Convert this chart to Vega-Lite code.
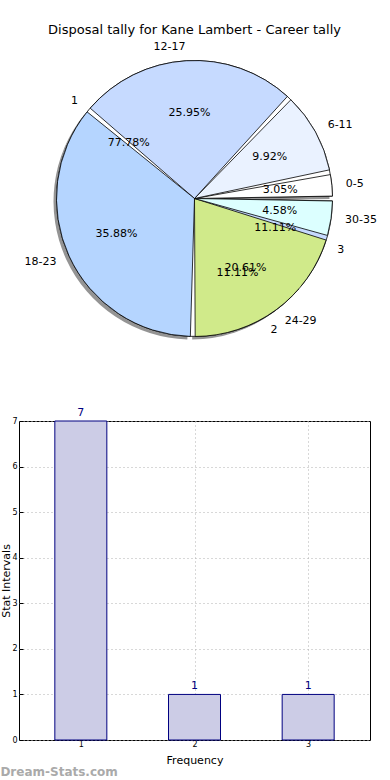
{
  "$schema": "https://vega.github.io/schema/vega-lite/v6.json",
  "padding": {"top": 23, "left": 0, "right": 0, "bottom": 0},
  "background": "white",
  "datasets": {
    "stat": [
      {"interval": "0-5", "lo": 0, "share": 3.05, "pct": "3.05%"},
      {"interval": "6-11", "lo": 6, "share": 9.92, "pct": "9.92%"},
      {"interval": "12-17", "lo": 12, "share": 25.95, "pct": "25.95%"},
      {"interval": "18-23", "lo": 18, "share": 35.88, "pct": "35.88%"},
      {"interval": "24-29", "lo": 24, "share": 20.61, "pct": "20.61%"},
      {"interval": "30-35", "lo": 30, "share": 4.58, "pct": "4.58%"}
    ],
    "freq": [
      {"freq": 1, "label": "1", "count": 7, "share": 77.78, "pct": "77.78%"},
      {"freq": 2, "label": "2", "count": 1, "share": 11.11, "pct": "11.11%"},
      {"freq": 3, "label": "3", "count": 1, "share": 11.11, "pct": "11.11%"}
    ]
  },
  "title": {
    "text": "Dream-Stats.com",
    "orient": "bottom",
    "anchor": "start",
    "font": "DejaVu Sans",
    "fontSize": 12,
    "fontWeight": "bold",
    "color": "#aaaaaa",
    "offset": 1
  },
  "spacing": 55,
  "vconcat": [
    {
      "width": 351,
      "height": 305,
      "view": {"stroke": null},
      "title": {
        "text": "Disposal tally for Kane Lambert - Career tally",
        "font": "DejaVu Sans",
        "fontSize": 13,
        "fontWeight": "normal",
        "color": "#000000",
        "anchor": "middle",
        "offset": 4
      },
      "layer": [
        {
          "data": {"name": "stat"},
          "mark": {"type": "arc", "outerRadius": 138, "padAngle": 0.035, "fill": "#4d4d4d", "opacity": 0.6, "xOffset": -3, "yOffset": 3},
          "encoding": {
            "theta": {"field": "share", "type": "quantitative", "stack": true, "scale": {"domain": [0, 100], "range": [1.5708, -4.7124]}},
            "order": {"field": "lo", "type": "quantitative"}
          }
        },
        {
          "data": {"name": "freq"},
          "mark": {"type": "arc", "outerRadius": 138, "padAngle": 0.035, "stroke": "#000000", "strokeWidth": 0.8},
          "encoding": {
            "theta": {"field": "share", "type": "quantitative", "stack": true},
            "order": {"field": "freq", "type": "quantitative"},
            "color": {"field": "label", "type": "nominal", "legend": null,
              "scale": {"domain": ["0-5", "6-11", "12-17", "18-23", "24-29", "30-35", "1", "2", "3"],
                        "range": ["#ffffff", "#eaf2ff", "#c6daff", "#b5d5ff", "#d0ea8a", "#dcffff", "#ffffff", "#eaf2ff", "#c6daff"]}}
          }
        },
        {
          "data": {"name": "stat"},
          "mark": {"type": "arc", "outerRadius": 138, "padAngle": 0.035, "stroke": "#000000", "strokeWidth": 0.8},
          "encoding": {
            "theta": {"field": "share", "type": "quantitative", "stack": true},
            "order": {"field": "lo", "type": "quantitative"},
            "color": {"field": "interval", "type": "nominal", "legend": null}
          }
        },
        {
          "data": {"name": "stat"},
          "mark": {"type": "text", "radius": 152, "align": "left", "baseline": "middle", "font": "DejaVu Sans", "fontSize": 11, "color": "#000000"},
          "encoding": {
            "theta": {"field": "share", "type": "quantitative", "stack": true},
            "order": {"field": "lo", "type": "quantitative"},
            "text": {"condition": {"test": "indexof(['0-5','6-11','24-29','30-35'], datum.interval) >= 0", "field": "interval"}, "value": ""}
          }
        },
        {
          "data": {"name": "stat"},
          "mark": {"type": "text", "radius": 152, "align": "right", "baseline": "middle", "font": "DejaVu Sans", "fontSize": 11, "color": "#000000"},
          "encoding": {
            "theta": {"field": "share", "type": "quantitative", "stack": true},
            "order": {"field": "lo", "type": "quantitative"},
            "text": {"condition": {"test": "indexof(['12-17','18-23'], datum.interval) >= 0", "field": "interval"}, "value": ""}
          }
        },
        {
          "data": {"name": "stat"},
          "mark": {"type": "text", "radius": 86, "font": "DejaVu Sans", "fontSize": 11, "color": "#000000"},
          "encoding": {
            "theta": {"field": "share", "type": "quantitative", "stack": true},
            "order": {"field": "lo", "type": "quantitative"},
            "text": {"field": "pct"}
          }
        },
        {
          "data": {"name": "freq"},
          "mark": {"type": "text", "radius": 152, "align": "left", "baseline": "middle", "font": "DejaVu Sans", "fontSize": 11, "color": "#000000"},
          "encoding": {
            "theta": {"field": "share", "type": "quantitative", "stack": true},
            "order": {"field": "freq", "type": "quantitative"},
            "text": {"condition": {"test": "datum.freq > 1", "field": "label"}, "value": ""}
          }
        },
        {
          "data": {"name": "freq"},
          "mark": {"type": "text", "radius": 152, "align": "right", "baseline": "middle", "font": "DejaVu Sans", "fontSize": 11, "color": "#000000"},
          "encoding": {
            "theta": {"field": "share", "type": "quantitative", "stack": true},
            "order": {"field": "freq", "type": "quantitative"},
            "text": {"condition": {"test": "datum.freq == 1", "field": "label"}, "value": ""}
          }
        },
        {
          "data": {"name": "freq"},
          "mark": {"type": "text", "radius": 86, "font": "DejaVu Sans", "fontSize": 11, "color": "#000000"},
          "encoding": {
            "theta": {"field": "share", "type": "quantitative", "stack": true},
            "order": {"field": "freq", "type": "quantitative"},
            "text": {"field": "pct"}
          }
        }
      ]
    },
    {
      "width": 351,
      "height": 319,
      "data": {"name": "freq"},
      "view": {"stroke": "#000000", "strokeWidth": 1},
      "encoding": {
        "x": {
          "field": "freq",
          "type": "quantitative",
          "scale": {"domain": [0.5, 3.5], "nice": false, "zero": false},
          "axis": {
            "values": [1, 2, 3],
            "title": "Frequency",
            "titlePadding": 6,
            "labelPadding": 4,
            "tickSize": -4,
            "gridDash": [1, 3]
          }
        },
        "y": {
          "field": "count",
          "type": "quantitative",
          "scale": {"domain": [0, 7], "nice": false},
          "axis": {
            "values": [0, 1, 2, 3, 4, 5, 6, 7],
            "title": "Stat Intervals",
            "titlePadding": 0,
            "labelPadding": 6,
            "tickSize": -4,
            "gridDash": [1, 3]
          }
        }
      },
      "layer": [
        {"mark": {"type": "bar", "width": 52, "fill": "#ccccE6", "stroke": "#000080", "strokeWidth": 1}},
        {
          "mark": {"type": "text", "baseline": "bottom", "dy": -3, "color": "#000080", "font": "DejaVu Sans", "fontSize": 11},
          "encoding": {"text": {"field": "count", "type": "quantitative"}}
        }
      ]
    }
  ],
  "config": {
    "axis": {
      "domain": false,
      "labelFont": "DejaVu Sans",
      "labelFontSize": 8,
      "labelColor": "#000000",
      "titleFont": "DejaVu Sans",
      "titleFontSize": 11,
      "titleFontWeight": "normal",
      "titleColor": "#000000",
      "tickColor": "#000000",
      "grid": true,
      "gridColor": "#b0b0b0",
      "gridWidth": 1
    }
  }
}
